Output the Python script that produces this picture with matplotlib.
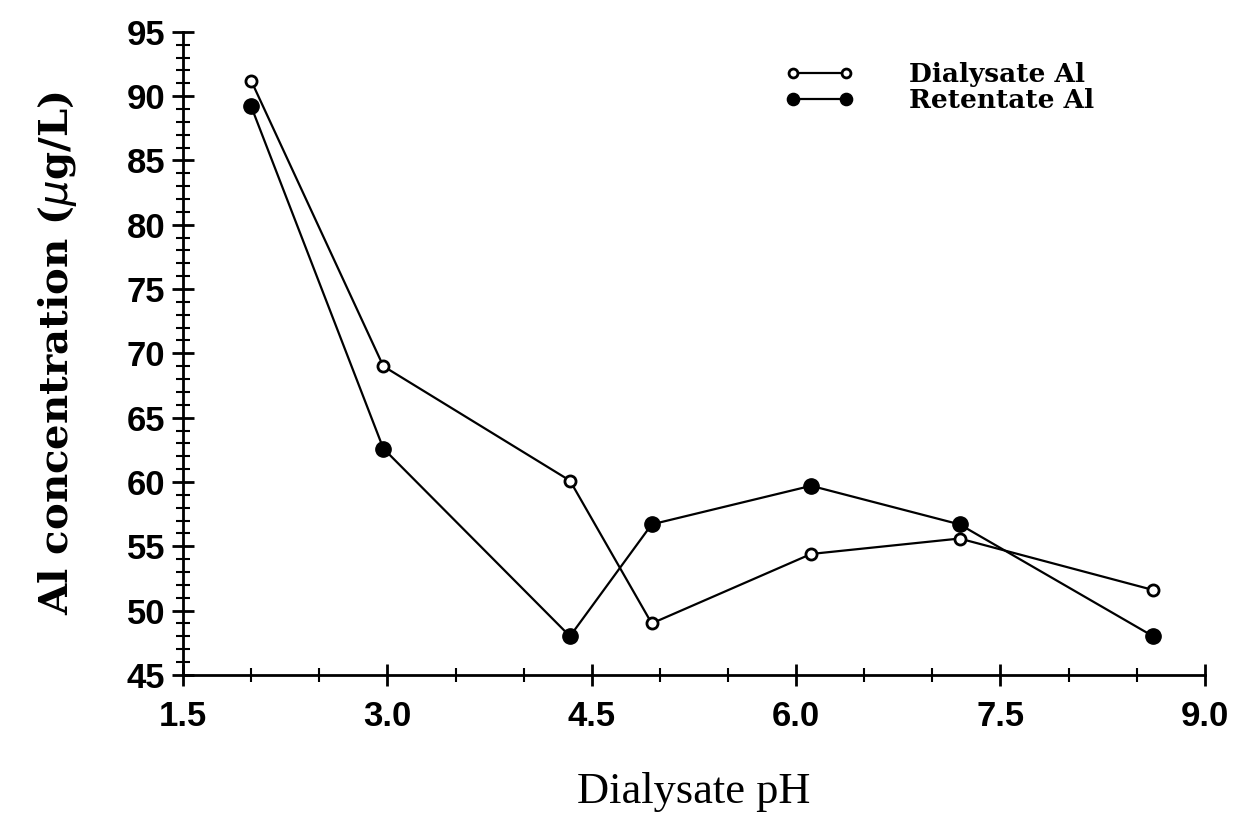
import matplotlib.pyplot as plt
from matplotlib.ticker import MultipleLocator

# Data
ph = [2.0, 2.97, 4.34, 4.94, 6.11, 7.2, 8.62]
dialysate_al = [91.2, 69.0, 60.1, 49.0, 54.4, 55.6, 51.6]
retentate_al = [89.2, 62.6, 48.0, 56.7, 59.7, 56.7, 48.0]

x_ticks = [1.5, 3.0, 4.5, 6.0, 7.5, 9.0]
x_tick_labels = ['1.5', '3.0', '4.5', '6.0', '7.5', '9.0']
y_ticks = [45, 50, 55, 60, 65, 70, 75, 80, 85, 90, 95]

fig = plt.figure(figsize=(12.37, 8.17), dpi=100)
ax = fig.add_axes([0.148, 0.174, 0.826, 0.787])

ax.plot(ph, dialysate_al, color='black', lw=1.6, marker='o', ms=8,
        mfc='white', mec='black', mew=2, label='Dialysate Al')
ax.plot(ph, retentate_al, color='black', lw=1.6, marker='o', ms=11,
        mfc='black', mec='black', label='Retentate Al')

ax.set_xlim(1.5, 9.0)
ax.set_ylim(45, 95)
ax.set_xticks(x_ticks)
ax.set_xticklabels(x_tick_labels)
ax.set_yticks(y_ticks)
ax.xaxis.set_minor_locator(MultipleLocator(0.5))
ax.yaxis.set_minor_locator(MultipleLocator(1))

for side in ['top', 'right']:
    ax.spines[side].set_visible(False)
for side in ['left', 'bottom']:
    ax.spines[side].set_linewidth(2)

ax.tick_params(which='major', direction='inout', length=16, width=2)
ax.tick_params(which='minor', direction='inout', length=10, width=1.5)
ax.tick_params(axis='x', which='major', pad=10)
ax.tick_params(axis='y', which='major', pad=5)
for lbl in ax.get_xticklabels() + ax.get_yticklabels():
    lbl.set_fontsize(25)
    lbl.set_fontweight('bold')
    lbl.set_family('Liberation Sans')

ax.set_ylabel('Al concentration ($\\mu$g/L)', fontsize=29, fontweight='bold',
              family='DejaVu Serif', labelpad=34)
ax.set_xlabel('Dialysate pH', fontsize=32, family='Liberation Serif', labelpad=28)

leg = ax.legend(loc='upper right', frameon=False, numpoints=2, handlelength=2.6,
                prop={'family': 'DejaVu Serif', 'weight': 'bold', 'size': 19},
                bbox_to_anchor=(0.915, 0.99), handletextpad=2.1, labelspacing=0.05)
for h in leg.legend_handles:
    h.set_markersize(h.get_markersize() * 0.8)

fig.savefig('out.png', dpi=100)
